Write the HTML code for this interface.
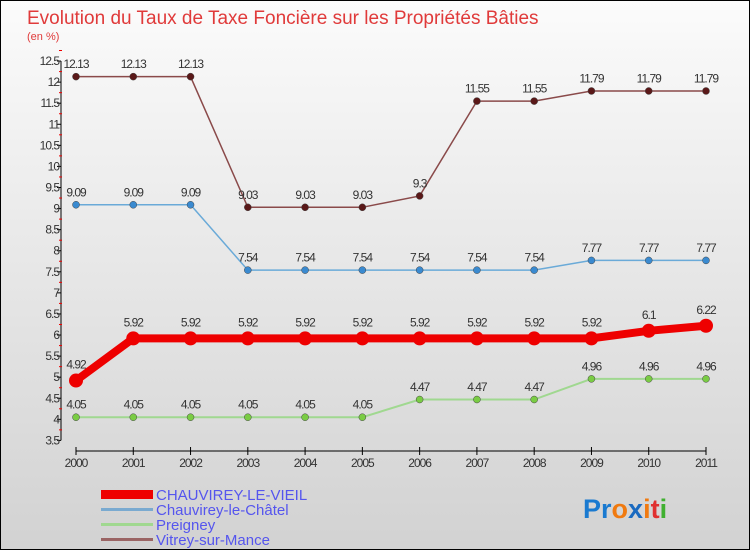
<!DOCTYPE html>
<html><head><meta charset="utf-8"><style>
body{margin:0;}
#c{width:750px;height:550px;position:relative;overflow:hidden;box-sizing:border-box;border:1px solid #000;background:linear-gradient(#fbfbfb,#d2d2d2);font-family:"Liberation Sans",sans-serif;}
svg text{font-family:"Liberation Sans",sans-serif;}
</style></head><body>
<div id="c">
<svg width="750" height="550" id="s">
<text x="26" y="23" font-size="19" fill="#e03a3a">Evolution du Taux de Taxe Foncière sur les Propriétés Bâties</text>
<text x="26" y="39" font-size="11" fill="#e03a3a">(en %)</text>
<g id="axes"></g><g id="series"></g>
<g>
<rect x="100" y="489" width="52" height="9" fill="#e00"/>
<text x="155" y="499" font-size="15" fill="#5555ee">CHAUVIREY-LE-VIEIL</text>
<rect x="100" y="507" width="52" height="3" fill="#7aaad0"/>
<text x="155" y="514" font-size="15" fill="#5555ee">Chauvirey-le-Châtel</text>
<rect x="100" y="522" width="52" height="3" fill="#a0d890"/>
<text x="155" y="529" font-size="15" fill="#5555ee">Preigney</text>
<rect x="100" y="537" width="52" height="3" fill="#9a6464"/>
<text x="155" y="544" font-size="15" fill="#5555ee">Vitrey-sur-Mance</text>
</g>
<text x="582" y="517" font-size="27" font-weight="bold"><tspan fill="#1a7ad0">Pr</tspan><tspan fill="#f07a10">o</tspan><tspan fill="#1a6ac0">x</tspan><tspan fill="#f07a10">i</tspan><tspan fill="#e03030">t</tspan><tspan fill="#40b030">i</tspan></text>
</svg>
</div>
<script>
const years=["2000","2001","2002","2003","2004","2005","2006","2007","2008","2009","2010","2011"];
const yTicks=[3.5,4,4.5,5,5.5,6,6.5,7,7.5,8,8.5,9,9.5,10,10.5,11,11.5,12,12.5];
const vieil=[4.92,5.92,5.92,5.92,5.92,5.92,5.92,5.92,5.92,5.92,6.1,6.22];
const chatel=[9.09,9.09,9.09,7.54,7.54,7.54,7.54,7.54,7.54,7.77,7.77,7.77];
const preigney=[4.05,4.05,4.05,4.05,4.05,4.05,4.47,4.47,4.47,4.96,4.96,4.96];
const vitrey=[12.13,12.13,12.13,9.03,9.03,9.03,9.3,11.55,11.55,11.79,11.79,11.79];
const NS="http://www.w3.org/2000/svg";
const X=i=>75+i*(630/11);
const Y=v=>439.4-(v-3.5)*42.15;
function mk(t,a,p){const e=document.createElementNS(NS,t);for(const k in a)e.setAttribute(k,a[k]);p.appendChild(e);return e;}
const ax=document.getElementById('axes');
let e=mk('line',{x1:60,y1:Y(12.5),x2:60,y2:Y(3.5),stroke:'#000'},ax);


yTicks.forEach(v=>{
 let t=mk('line',{x1:56,x2:60,y1:Y(v),y2:Y(v),stroke:'#000'},ax);
 
 
 let m=mk('line',{x1:58,x2:61,y1:Y(v+0.25),y2:Y(v+0.25),stroke:'#e00'},ax);
 
 
 let l=mk('text',{x:58,y:Y(v)+4,'font-size':12,fill:'#333','text-anchor':'end','letter-spacing':'-1'},ax);
 l.textContent=String(v);
 
 
});
e=mk('line',{x1:75,x2:705,y1:450,y2:450,stroke:'#000'},ax);


years.forEach((y,i)=>{
 let t=mk('line',{x1:X(i),x2:X(i),y1:446,y2:454,stroke:'#000'},ax);
 
 
 let l=mk('text',{x:X(i),y:466,'font-size':12,fill:'#333','text-anchor':'middle','letter-spacing':'-1'},ax);
 l.textContent=y;
 
 
});
const sg=document.getElementById('series');
function series(vals,line,dot,w,r,name){
 const g=mk('g',{},sg);
 
 
 const p=mk('polyline',{points:vals.map((v,i)=>X(i)+','+Y(v)).join(' '),fill:'none',stroke:line,'stroke-width':w},g);
 
 
 vals.forEach((v,i)=>{
  const c=mk('circle',{cx:X(i),cy:Y(v),r:r,fill:dot,stroke:line==='#e00'?'#e00':'#444','stroke-width':line==='#e00'?0:0.5},g);
  
  
  const t=mk('text',{x:X(i),y:Y(v)-(r+5),'font-size':12,fill:'#333','text-anchor':'middle','letter-spacing':'-1'},g);
  t.textContent=String(v);
  
  
 });
}
series(preigney,'#a0d890','#7acc44',2,3.5,'preigney');
series(chatel,'#6aaad8','#3a8ad0',1.5,3.5,'chauvirey-le-chatel');
series(vitrey,'#8a4a4a','#5a1818',1.5,3.5,'vitrey-sur-mance');
series(vieil,'#e00','#e00',8,7,'chauvirey-le-vieil');
</script>
</body></html>
